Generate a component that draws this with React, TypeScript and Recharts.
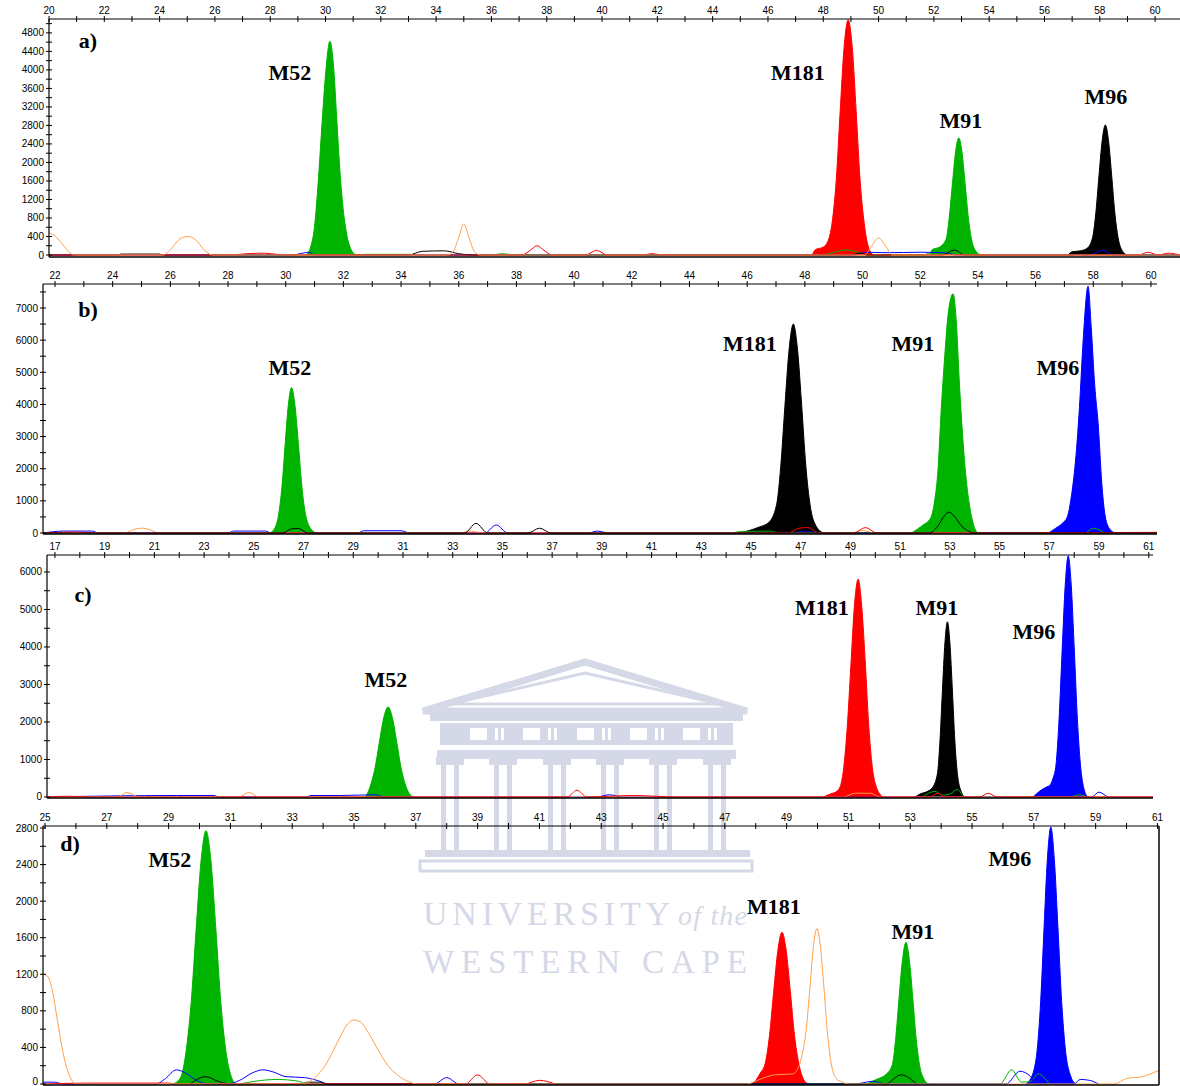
import { ComposedChart, Area, Line, XAxis, YAxis, ReferenceLine } from "recharts";

type Pt = [number, number];

const GREEN = "#00b300";
const RED = "#ff0000";
const BLACK = "#000000";
const BLUE = "#0000ff";
const ORANGE = "#ff9f4a";

// ---------- ticks ----------
const aXTicks = [20, 21, 22, 23, 24, 25, 26, 27, 28, 29, 30, 31, 32, 33, 34, 35, 36, 37, 38, 39, 40, 41, 42, 43, 44, 45, 46, 47, 48, 49, 50, 51, 52, 53, 54, 55, 56, 57, 58, 59, 60];
const bXTicks = [22, 23, 24, 25, 26, 27, 28, 29, 30, 31, 32, 33, 34, 35, 36, 37, 38, 39, 40, 41, 42, 43, 44, 45, 46, 47, 48, 49, 50, 51, 52, 53, 54, 55, 56, 57, 58, 59, 60];
const cXTicks = [17, 18, 19, 20, 21, 22, 23, 24, 25, 26, 27, 28, 29, 30, 31, 32, 33, 34, 35, 36, 37, 38, 39, 40, 41, 42, 43, 44, 45, 46, 47, 48, 49, 50, 51, 52, 53, 54, 55, 56, 57, 58, 59, 60, 61];
const dXTicks = [25, 26, 27, 28, 29, 30, 31, 32, 33, 34, 35, 36, 37, 38, 39, 40, 41, 42, 43, 44, 45, 46, 47, 48, 49, 50, 51, 52, 53, 54, 55, 56, 57, 58, 59, 60, 61];
const aYTicks = [0, 200, 400, 600, 800, 1000, 1200, 1400, 1600, 1800, 2000, 2200, 2400, 2600, 2800, 3000, 3200, 3400, 3600, 3800, 4000, 4200, 4400, 4600, 4800, 5000];
const bYTicks = [0, 500, 1000, 1500, 2000, 2500, 3000, 3500, 4000, 4500, 5000, 5500, 6000, 6500, 7000, 7500];
const cYTicks = [0, 500, 1000, 1500, 2000, 2500, 3000, 3500, 4000, 4500, 5000, 5500, 6000];
const dYTicks = [0, 200, 400, 600, 800, 1000, 1200, 1400, 1600, 1800, 2000, 2200, 2400, 2600, 2800];

// ---------- panel a ----------
const aM52: Pt[] = [[29.3, 0], [29.45, 150], [29.6, 600], [29.75, 1700], [29.88, 2900], [30.0, 3900], [30.16, 4620], [30.3, 4000], [30.4, 3000], [30.5, 2000], [30.62, 1100], [30.75, 500], [30.9, 150], [31.1, 0]];
const aM181: Pt[] = [[47.6, 0], [47.72, 120], [48.0, 170], [48.2, 350], [48.32, 700], [48.47, 1630], [48.61, 3100], [48.75, 4470], [48.9, 5080], [49.05, 4470], [49.19, 3100], [49.33, 1630], [49.48, 690], [49.62, 200], [49.8, 0]];
const aM91: Pt[] = [[51.85, 0], [51.95, 120], [52.2, 170], [52.44, 340], [52.555, 810], [52.67, 1540], [52.785, 2230], [52.9, 2530], [53.015, 2230], [53.13, 1540], [53.245, 810], [53.36, 340], [53.55, 60], [53.7, 0]];
const aM96: Pt[] = [[56.85, 0], [57.0, 70], [57.3, 90], [57.55, 150], [57.74, 380], [57.855, 900], [57.97, 1710], [58.085, 2470], [58.2, 2810], [58.315, 2470], [58.43, 1710], [58.545, 900], [58.66, 380], [58.85, 60], [59.0, 0]];
const aOrange: Pt[] = [[20, 480], [20.2, 420], [20.45, 260], [20.7, 80], [20.9, 0], [24.1, 0], [24.4, 120], [24.7, 330], [25.0, 400], [25.3, 330], [25.6, 120], [25.9, 0], [34.4, 0], [34.6, 60], [34.8, 350], [35.0, 670], [35.2, 350], [35.4, 60], [35.6, 0], [49.5, 0], [49.75, 200], [50.0, 370], [50.25, 200], [50.5, 0], [60.9, 0]];
const aRed: Pt[] = [[20, 0], [26.5, 0], [27.2, 30], [27.8, 40], [28.3, 10], [28.6, 0], [37.1, 0], [37.4, 100], [37.65, 200], [37.9, 100], [38.2, 0], [39.4, 0], [39.8, 100], [40.2, 0], [41.5, 0], [41.8, 30], [42.2, 0], [59.4, 0], [59.75, 60], [60.1, 0], [60.5, 40], [60.9, 0]];
const aBlack: Pt[] = [[20, 0], [22.5, 0], [22.6, 20], [24.0, 20], [24.1, 0], [33.0, 0], [33.5, 80], [34.3, 90], [34.8, 30], [35.3, 0], [49.0, 0], [49.3, 40], [49.6, 0], [52.3, 0], [52.75, 110], [53.1, 0], [57.0, 0], [57.2, 40], [57.4, 0], [60.9, 0]];
const aBlue: Pt[] = [[20, 0], [28.8, 0], [29.1, 30], [29.4, 60], [29.6, 0], [49.2, 0], [49.5, 60], [50.3, 50], [51.5, 60], [52.5, 40], [52.8, 0], [57.6, 0], [58.1, 100], [58.5, 0], [60.9, 0]];
const aGreen: Pt[] = [[31.0, 0], [31.5, 15], [33.0, 15], [33.4, 0], [36.0, 0], [36.4, 30], [36.8, 0], [47.9, 0], [48.4, 60], [48.8, 110], [49.2, 70], [49.6, 0], [51.6, 0], [52.0, 70], [52.3, 0]];

// ---------- panel b ----------
const bM52: Pt[] = [[29.45, 0], [29.6, 120], [29.76, 610], [29.87, 1450], [29.98, 2760], [30.09, 3980], [30.2, 4520], [30.32, 3980], [30.44, 2760], [30.56, 1450], [30.68, 610], [30.88, 120], [31.07, 0]];
const bM181: Pt[] = [[45.7, 0], [46.0, 60], [46.4, 180], [46.75, 330], [47.02, 880], [47.165, 2080], [47.31, 3970], [47.455, 5720], [47.6, 6500], [47.745, 5720], [47.89, 3970], [48.035, 2080], [48.18, 880], [48.4, 200], [48.65, 0]];
const bM91: Pt[] = [[51.7, 0], [51.9, 120], [52.1, 250], [52.35, 450], [52.5, 1000], [52.62, 2000], [52.72, 3700], [52.85, 5500], [52.98, 6900], [53.14, 7440], [53.25, 6600], [53.35, 4800], [53.45, 3300], [53.58, 1800], [53.72, 800], [53.85, 250], [53.98, 0]];
const bM96: Pt[] = [[56.45, 0], [56.7, 150], [56.95, 320], [57.1, 500], [57.25, 1200], [57.4, 2400], [57.52, 3900], [57.65, 6000], [57.82, 7680], [57.93, 6400], [58.05, 4600], [58.17, 3400], [58.3, 1500], [58.4, 600], [58.55, 150], [58.75, 0]];
const bOrange: Pt[] = [[21.58, 0], [24.4, 0], [24.7, 100], [25.0, 150], [25.3, 100], [25.6, 0], [36.0, 0], [36.4, 60], [36.8, 0], [49.6, 0], [50.0, 80], [50.4, 0], [60.21, 0]];
const bBlack: Pt[] = [[21.58, 0], [29.9, 0], [30.2, 130], [30.45, 140], [30.75, 0], [36.2, 0], [36.6, 300], [37.0, 0], [38.4, 0], [38.8, 150], [39.2, 0], [52.3, 0], [52.6, 200], [52.85, 550], [53.0, 650], [53.2, 500], [53.45, 200], [53.7, 50], [53.85, 0], [60.21, 0]];
const bBlue: Pt[] = [[21.58, 0], [22.3, 60], [23.3, 60], [23.5, 0], [28.0, 0], [28.2, 60], [29.3, 60], [29.5, 0], [32.5, 0], [32.7, 70], [34.0, 70], [34.3, 0], [36.9, 0], [37.3, 250], [37.7, 0], [40.5, 0], [40.8, 60], [41.2, 0], [47.5, 0], [48.0, 60], [48.5, 0], [60.21, 0]];
const bRed: Pt[] = [[21.58, 0], [22.8, 30], [23.4, 0], [47.4, 0], [47.8, 150], [48.1, 170], [48.5, 0], [49.7, 0], [50.1, 170], [50.5, 0], [60.21, 20]];
const bGreen: Pt[] = [[45.5, 0], [45.8, 50], [46.8, 60], [47.1, 0], [57.7, 0], [58.0, 150], [58.4, 0]];

// ---------- panel c ----------
const cM52: Pt[] = [[29.5, 0], [29.7, 320], [29.875, 770], [30.05, 1460], [30.225, 2110], [30.4, 2400], [30.575, 2110], [30.75, 1460], [30.925, 770], [31.1, 320], [31.3, 50], [31.45, 0]];
const cM181: Pt[] = [[47.9, 0], [48.2, 80], [48.45, 150], [48.6, 300], [48.73, 790], [48.87, 1860], [49.02, 3540], [49.16, 5110], [49.31, 5810], [49.45, 5110], [49.6, 3540], [49.74, 1860], [49.88, 790], [50.05, 250], [50.3, 0]];
const cM91: Pt[] = [[51.6, 0], [51.8, 80], [52.1, 150], [52.3, 250], [52.5, 630], [52.6, 1490], [52.7, 2850], [52.8, 4110], [52.9, 4670], [53.0, 4110], [53.1, 2850], [53.2, 1490], [53.3, 630], [53.45, 150], [53.6, 0]];
const cM96: Pt[] = [[56.35, 0], [56.6, 150], [56.9, 270], [57.0, 300], [57.15, 500], [57.27, 870], [57.39, 2060], [57.515, 3920], [57.64, 5660], [57.76, 6430], [57.88, 5660], [58.005, 3920], [58.13, 2060], [58.25, 870], [58.4, 200], [58.55, 0]];
const cOrange: Pt[] = [[16.68, 0], [19.5, 0], [19.9, 120], [20.4, 0], [24.4, 0], [24.8, 120], [25.2, 0], [48.7, 0], [49.2, 100], [49.8, 100], [50.2, 0], [61.17, 0]];
const cRed: Pt[] = [[16.68, 0], [17.5, 20], [18.5, 0], [37.6, 0], [38.0, 180], [38.4, 0], [40.3, 40], [42.0, 0], [52.2, 0], [52.5, 100], [52.8, 0], [54.2, 0], [54.55, 100], [54.9, 0], [61.17, 0]];
const cBlue: Pt[] = [[16.68, 0], [21.9, 40], [23.4, 40], [23.6, 0], [27.1, 0], [27.3, 40], [28.5, 40], [29.9, 60], [30.2, 0], [38.8, 0], [39.3, 60], [39.8, 0], [58.7, 0], [59.0, 130], [59.4, 0], [61.17, 0]];
const cGreen: Pt[] = [[51.9, 0], [52.4, 150], [52.7, 50], [53.0, 80], [53.3, 200], [53.6, 0], [57.8, 0], [58.2, 60], [58.5, 0]];

// ---------- panel d ----------
const dM52: Pt[] = [[29.15, 0], [29.4, 80], [29.57, 370], [29.73, 890], [29.89, 1690], [30.05, 2440], [30.21, 2770], [30.37, 2440], [30.53, 1690], [30.69, 890], [30.85, 370], [31.05, 60], [31.17, 0]];
const dM181: Pt[] = [[47.8, 0], [48.0, 40], [48.15, 120], [48.31, 230], [48.445, 530], [48.58, 1010], [48.715, 1460], [48.85, 1660], [48.985, 1460], [49.12, 1010], [49.255, 530], [49.39, 230], [49.55, 50], [49.7, 0]];
const dM91: Pt[] = [[51.6, 0], [51.9, 50], [52.2, 100], [52.42, 210], [52.53, 500], [52.64, 950], [52.75, 1360], [52.86, 1550], [52.97, 1360], [53.08, 950], [53.19, 500], [53.3, 210], [53.45, 50], [53.6, 0]];
const dM96: Pt[] = [[56.75, 0], [56.9, 60], [57.0, 150], [57.11, 380], [57.22, 900], [57.33, 1710], [57.44, 2470], [57.55, 2810], [57.66, 2470], [57.78, 1710], [57.9, 900], [58.02, 380], [58.2, 80], [58.35, 0]];
const dOrange: Pt[] = [[24.94, 1200], [25.1, 1170], [25.25, 1000], [25.4, 700], [25.55, 400], [25.7, 180], [25.85, 50], [26.0, 0], [33.3, 0], [33.7, 60], [34.1, 220], [34.5, 480], [34.8, 660], [35.0, 700], [35.2, 680], [35.5, 540], [35.8, 360], [36.1, 200], [36.4, 100], [36.8, 20], [37.1, 0], [47.7, 0], [48.2, 60], [48.6, 100], [49.2, 110], [49.4, 200], [49.52, 350], [49.635, 600], [49.75, 1040], [49.865, 1500], [49.98, 1700], [50.095, 1500], [50.21, 1040], [50.325, 540], [50.44, 230], [50.6, 60], [50.8, 20], [51.0, 0], [59.6, 0], [60.0, 60], [60.5, 80], [61.05, 150]];
const dBlue: Pt[] = [[24.94, 20], [25.3, 20], [25.6, 0], [28.6, 0], [28.9, 60], [29.25, 155], [29.6, 110], [29.9, 40], [30.3, 0], [30.9, 0], [31.3, 40], [31.7, 120], [32.05, 155], [32.4, 130], [32.8, 80], [33.4, 70], [33.8, 40], [34.2, 0], [37.6, 0], [38.0, 70], [38.4, 0], [51.2, 0], [51.8, 30], [52.2, 0], [56.1, 0], [56.55, 140], [56.9, 80], [57.1, 0], [58.3, 0], [58.5, 50], [58.8, 40], [59.1, 0]];
const dGreen: Pt[] = [[31.3, 0], [31.8, 30], [32.5, 50], [33.2, 30], [33.5, 0], [55.9, 0], [56.28, 155], [56.6, 20], [56.9, 30], [57.14, 110], [57.5, 0]];
const dBlack: Pt[] = [[29.7, 0], [30.2, 80], [30.6, 30], [31.0, 0], [33.3, 0], [33.5, 20], [33.9, 20], [34.1, 0], [52.2, 0], [52.7, 100], [53.2, 0]];
const dRed: Pt[] = [[24.94, 0], [26.4, 10], [29.0, 10], [29.2, 0], [38.6, 0], [39.0, 100], [39.4, 0], [40.5, 0], [41.0, 40], [41.5, 0]];

const toXY = (pts: Pt[]) => pts.map(([x, y]) => ({ x, y }));

type Trace = { key: string; color: string; pts: Pt[] };

type PanelCfg = {
  top: number;
  height: number;
  bottomPad: number;
  axisH: number;
  yAxisW: number;
  marginRight: number;
  xDomain: [number, number];
  yDomain: [number, number];
  xTicks: number[];
  yTicks: number[];
  xShow: (v: number) => boolean;
  yShow: (v: number) => boolean;
  peaks: Trace[];
  lines: Trace[];
  rightBorder?: boolean;
};

const FONT = "'Liberation Sans', Arial, sans-serif";

const XTick = (props: any) => {
  const { x, y, payload, show } = props;
  const v = payload.value;
  return (
    <g>
      <line x1={x} x2={x} y1={y - 3} y2={y + 3} stroke="#000" />
      {show(v) && (
        <text x={x} y={y - 5} textAnchor="middle" fontSize={10} fontFamily={FONT} fill="#000">
          {v}
        </text>
      )}
    </g>
  );
};

const YTick = (props: any) => {
  const { x, y, payload, show, maxY } = props;
  const v = payload.value;
  return (
    <g>
      <line x1={x - 3} x2={x + 3} y1={y} y2={y} stroke="#000" />
      {show(v) && (
        <text x={x - 5} y={Math.min(y + 3.5, maxY)} textAnchor="end" fontSize={10} fontFamily={FONT} fill="#000">
          {v}
        </text>
      )}
    </g>
  );
};

const panels: PanelCfg[] = [
  {
    top: 0, height: 257, bottomPad: 6, axisH: 19, yAxisW: 49, marginRight: 0,
    xDomain: [20, 60.9], yDomain: [-43, 5100],
    xTicks: aXTicks, yTicks: aYTicks,
    xShow: (v) => v % 2 === 0, yShow: (v) => v % 400 === 0,
    peaks: [
      { key: "aM52", color: GREEN, pts: aM52 },
      { key: "aM181", color: RED, pts: aM181 },
      { key: "aM91", color: GREEN, pts: aM91 },
      { key: "aM96", color: BLACK, pts: aM96 },
    ],
    lines: [
      { key: "aGreen", color: GREEN, pts: aGreen },
      { key: "aBlue", color: BLUE, pts: aBlue },
      { key: "aBlack", color: BLACK, pts: aBlack },
      { key: "aRed", color: RED, pts: aRed },
      { key: "aOrange", color: ORANGE, pts: aOrange },
    ],
  },
  {
    top: 266, height: 268, bottomPad: 6, axisH: 18, yAxisW: 43, marginRight: 23,
    xDomain: [21.584, 60.21], yDomain: [-31, 7747],
    xTicks: bXTicks, yTicks: bYTicks,
    xShow: (v) => v % 2 === 0, yShow: (v) => v % 1000 === 0,
    peaks: [
      { key: "bM52", color: GREEN, pts: bM52 },
      { key: "bM181", color: BLACK, pts: bM181 },
      { key: "bM91", color: GREEN, pts: bM91 },
      { key: "bM96", color: BLUE, pts: bM96 },
    ],
    lines: [
      { key: "bGreen", color: GREEN, pts: bGreen },
      { key: "bBlue", color: BLUE, pts: bBlue },
      { key: "bOrange", color: ORANGE, pts: bOrange },
      { key: "bRed", color: RED, pts: bRed },
      { key: "bBlack", color: BLACK, pts: bBlack },
    ],
  },
  {
    top: 537, height: 261, bottomPad: 6, axisH: 18, yAxisW: 47, marginRight: 27,
    xDomain: [16.68, 61.17], yDomain: [-27, 6453],
    xTicks: cXTicks, yTicks: cYTicks,
    xShow: (v) => v % 2 === 1, yShow: (v) => v % 1000 === 0,
    peaks: [
      { key: "cM52", color: GREEN, pts: cM52 },
      { key: "cM181", color: RED, pts: cM181 },
      { key: "cM91", color: BLACK, pts: cM91 },
      { key: "cM96", color: BLUE, pts: cM96 },
    ],
    lines: [
      { key: "cGreen", color: GREEN, pts: cGreen },
      { key: "cBlue", color: BLUE, pts: cBlue },
      { key: "cOrange", color: ORANGE, pts: cOrange },
      { key: "cRed", color: RED, pts: cRed },
    ],
  },
  {
    top: 808, height: 277, bottomPad: 1, axisH: 18, yAxisW: 43, marginRight: 21,
    xDomain: [24.935, 61.05], yDomain: [-11, 2822],
    xTicks: dXTicks, yTicks: dYTicks,
    xShow: (v) => v % 2 === 1, yShow: (v) => v % 400 === 0,
    peaks: [
      { key: "dM52", color: GREEN, pts: dM52 },
      { key: "dM181", color: RED, pts: dM181 },
      { key: "dM91", color: GREEN, pts: dM91 },
      { key: "dM96", color: BLUE, pts: dM96 },
    ],
    lines: [
      { key: "dGreen", color: GREEN, pts: dGreen },
      { key: "dBlue", color: BLUE, pts: dBlue },
      { key: "dBlack", color: BLACK, pts: dBlack },
      { key: "dRed", color: RED, pts: dRed },
      { key: "dOrange", color: ORANGE, pts: dOrange },
    ],
    rightBorder: true,
  },
];

// annotation text, placed in page pixels
const annotations: { text: string; x: number; y: number }[] = [
  { text: "a)", x: 88, y: 48 },
  { text: "M52", x: 290, y: 80 },
  { text: "M181", x: 798, y: 80 },
  { text: "M91", x: 961, y: 128 },
  { text: "M96", x: 1106, y: 104 },
  { text: "b)", x: 88, y: 317 },
  { text: "M52", x: 290, y: 375 },
  { text: "M181", x: 750, y: 351 },
  { text: "M91", x: 913, y: 351 },
  { text: "M96", x: 1058, y: 375 },
  { text: "c)", x: 83, y: 602 },
  { text: "M52", x: 386, y: 687 },
  { text: "M181", x: 822, y: 615 },
  { text: "M91", x: 937, y: 615 },
  { text: "M96", x: 1034, y: 639 },
  { text: "d)", x: 70, y: 851 },
  { text: "M52", x: 170, y: 867 },
  { text: "M181", x: 774, y: 914 },
  { text: "M91", x: 913, y: 939 },
  { text: "M96", x: 1010, y: 866 },
];

function Panel({ cfg }: { cfg: PanelCfg }) {
  const chartH = cfg.height + cfg.bottomPad;
  return (
    <div style={{ position: "absolute", left: 0, top: cfg.top }}>
      <ComposedChart
        width={1180}
        height={chartH}
        margin={{ top: 0, right: cfg.marginRight, bottom: cfg.bottomPad, left: 0 }}
      >
        <XAxis
          type="number"
          dataKey="x"
          orientation="top"
          domain={cfg.xDomain}
          allowDataOverflow
          ticks={cfg.xTicks}
          interval={0}
          height={cfg.axisH}
          tickSize={0}
          tickMargin={0}
          tickLine={false}
          axisLine={{ stroke: "#000", strokeWidth: 1.2 }}
          tick={(p: any) => <XTick {...p} show={cfg.xShow} />}
        />
        <YAxis
          type="number"
          dataKey="y"
          domain={cfg.yDomain}
          allowDataOverflow
          ticks={cfg.yTicks}
          interval={0}
          width={cfg.yAxisW}
          tickSize={0}
          tickMargin={0}
          tickLine={false}
          axisLine={{ stroke: "#000", strokeWidth: 1.2 }}
          tick={(p: any) => <YTick {...p} show={cfg.yShow} maxY={chartH - 1} />}
        />
        {cfg.peaks.map((t) => (
          <Area
            key={t.key}
            data={toXY(t.pts)}
            dataKey="y"
            type="monotone"
            stroke={t.color}
            strokeWidth={1}
            fill={t.color}
            fillOpacity={1}
            dot={false}
            activeDot={false}
            isAnimationActive={false}
          />
        ))}
        {cfg.lines.map((t) => (
          <Line
            key={t.key}
            data={toXY(t.pts)}
            dataKey="y"
            type="monotone"
            stroke={t.color}
            strokeWidth={1}
            dot={false}
            activeDot={false}
            isAnimationActive={false}
          />
        ))}
        <ReferenceLine y={cfg.yDomain[0]} stroke="#000" strokeWidth={1.5} ifOverflow="visible" />
        {cfg.rightBorder && (
          <ReferenceLine x={cfg.xDomain[1]} stroke="#000" strokeWidth={1.5} ifOverflow="visible" />
        )}
      </ComposedChart>
    </div>
  );
}

const WM = "#d5d8e7";

function Watermark() {
  const cols = [450, 503, 557, 610, 663, 717];
  const metopes = [470, 523, 577, 630, 683];
  return (
    <svg width={1180} height={1086} style={{ position: "absolute", left: 0, top: 0 }}>
      <polygon points="423,711 585,662 747,711" fill="none" stroke={WM} strokeWidth={7} />
      <polygon points="450,704 585,673 720,704" fill="none" stroke={WM} strokeWidth={3} />
      <rect x={430} y={709} width={313} height={12} fill={WM} />
      <rect x={440} y={723} width={293} height={22} fill={WM} />
      {metopes.map((m) => (
        <rect key={m} x={m} y={728} width={17} height={12} fill="#fff" />
      ))}
      {metopes.map((m) => (
        <g key={"s" + m}>
          <rect x={m + 25} y={728} width={3} height={12} fill="#fff" />
          <rect x={m + 31} y={728} width={3} height={12} fill="#fff" />
        </g>
      ))}
      <rect x={437} y={750} width={299} height={9} fill={WM} />
      {cols.map((c) => (
        <g key={c}>
          <rect x={c - 14} y={757} width={28} height={8} fill={WM} />
          <rect x={c - 9} y={765} width={5} height={85} fill={WM} />
          <rect x={c + 4} y={765} width={5} height={85} fill={WM} />
        </g>
      ))}
      <rect x={425} y={850} width={325} height={7} fill={WM} />
      <rect x={420} y={861} width={332} height={10} fill="none" stroke={WM} strokeWidth={3} />
      <text x={423} y={925} fontFamily="'Liberation Serif', serif" fontSize={34} fill={WM} textLength={247} lengthAdjust="spacing">
        UNIVERSITY
      </text>
      <text x={678} y={925} fontFamily="'Liberation Serif', serif" fontStyle="italic" fontSize={28} fill={WM} textLength={69} lengthAdjust="spacing">
        of the
      </text>
      <text x={423} y={973} fontFamily="'Liberation Serif', serif" fontSize={33} fill={WM} textLength={324} lengthAdjust="spacing">
        WESTERN CAPE
      </text>
    </svg>
  );
}

export default function App() {
  return (
    <div style={{ position: "absolute", left: 0, top: 0, width: 1180, height: 1086, background: "#fff", overflow: "hidden" }}>
      <Watermark />
      {panels.map((p, i) => (
        <Panel key={i} cfg={p} />
      ))}
      <svg width={1180} height={1086} style={{ position: "absolute", left: 0, top: 0, pointerEvents: "none" }}>
        {annotations.map((a, i) => (
          <text
            key={i}
            x={a.x}
            y={a.y}
            textAnchor="middle"
            fontFamily="'Liberation Serif', 'Times New Roman', serif"
            fontWeight="bold"
            fontSize={22}
            fill="#000"
          >
            {a.text}
          </text>
        ))}
      </svg>
    </div>
  );
}
